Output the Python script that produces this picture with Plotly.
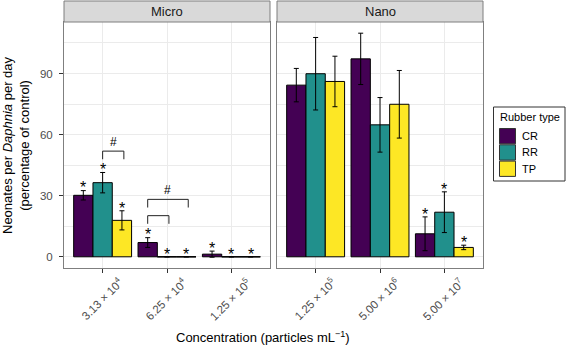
import plotly.graph_objects as go

# ---------------- data ----------------
rubber_types = ["CR", "RR", "TP"]
fill_colors = ["#440154", "#21908C", "#FDE725"]

micro_conc = ["3.13 × 10<sup>4</sup>", "6.25 × 10<sup>4</sup>", "1.25 × 10<sup>5</sup>"]
nano_conc = ["1.25 × 10<sup>5</sup>", "5.00 × 10<sup>6</sup>", "5.00 × 10<sup>7</sup>"]

micro_cr = [30.2, 7.0, 1.3]
micro_rr = [36.4, 0.0, 0.0]
micro_tp = [17.9, 0.0, 0.0]
micro_cr_err = [2.3, 2.4, 1.5]
micro_rr_err = [5.0, 0.0, 0.0]
micro_tp_err = [4.7, 0.0, 0.0]

nano_cr = [84.3, 97.2, 11.3]
nano_rr = [89.9, 64.8, 21.9]
nano_tp = [86.1, 74.9, 4.6]
nano_cr_err = [8.2, 12.6, 8.3]
nano_rr_err = [17.8, 13.4, 10.0]
nano_tp_err = [12.4, 16.6, 1.1]

# significance vs control (True -> asterisk)
micro_sig_cr = [True, True, True]
micro_sig_rr = [True, True, True]
micro_sig_tp = [True, True, True]
nano_sig_cr = [False, False, True]
nano_sig_rr = [False, False, True]
nano_sig_tp = [False, False, True]

# pairwise differences (#): (category index, type a, type b, bracket height, show label)
micro_pairs = [(0, "RR", "TP", 51.9, True), (1, "CR", "RR", 20.2, False), (1, "CR", "TP", 28.2, True)]

y_ticks = [0, 30, 60, 90]
y_minor = [15, 45, 75, 105]

# ---------------- figure ----------------
W, H = 567, 347
fig = go.Figure()

BORDER = "#7f7f7f"
GRID = "#ebebeb"
TXT = "#4d4d4d"
FONT = "Liberation Sans, Arial, sans-serif"


def px(x):
    return x / W


def py(y):
    return (H - y) / H


panels = [
    ("x", "y", micro_conc, [micro_cr, micro_rr, micro_tp],
     [micro_cr_err, micro_rr_err, micro_tp_err], [micro_sig_cr, micro_sig_rr, micro_sig_tp]),
    ("x2", "y2", nano_conc, [nano_cr, nano_rr, nano_tp],
     [nano_cr_err, nano_rr_err, nano_tp_err], [nano_sig_cr, nano_sig_rr, nano_sig_tp]),
]

offsets = [-0.3, 0.0, 0.3]
shapes = []
annotations = []

for p, (xa, ya, cats, vals, errs, sigs) in enumerate(panels):
    for k, rt in enumerate(rubber_types):
        fig.add_trace(go.Bar(
            x=cats, y=vals[k], name=rt, xaxis=xa, yaxis=ya,
            marker=dict(color=fill_colors[k], line=dict(color="black", width=1)),
            error_y=dict(type="data", array=errs[k], color="black", thickness=1, width=2.5),
            offsetgroup=rt, legendgroup=rt, showlegend=False,
        ))
        for i in range(len(cats)):
            xc = i + offsets[k]
            if vals[k][i] == 0:
                shapes.append(dict(type="line", xref=xa, yref=ya, x0=xc - 0.15, x1=xc + 0.15,
                                   y0=0, y1=0, line=dict(color="black", width=1)))
            if sigs[k][i]:
                annotations.append(dict(xref=xa, yref=ya, x=xc, y=vals[k][i] + errs[k][i] + 2.8,
                                        text="*", showarrow=False, yanchor="middle", yshift=-3,
                                        font=dict(family=FONT, size=16, color="black")))
    # rotated category labels, centred under each tick
    for i, c in enumerate(cats):
        annotations.append(dict(xref=xa, yref="paper", x=i, xshift=-1.5, y=py(298.5), text=c,
                                textangle=-45, showarrow=False, xanchor="center", yanchor="middle",
                                font=dict(family=FONT, size=11.5, color=TXT)))

# brackets with '#'
for (ci, a, b, h, lab) in micro_pairs:
    xa0 = ci + offsets[rubber_types.index(a)]
    xb0 = ci + offsets[rubber_types.index(b)] + 0.03
    leg = 4.0
    shapes.append(dict(type="path", xref="x", yref="y",
                       path=f"M{xa0},{h - leg} L{xa0},{h} L{xb0},{h} L{xb0},{h - leg}",
                       line=dict(color="#222222", width=1)))
    if lab:
        annotations.append(dict(xref="x", yref="y", x=(xa0 + xb0) / 2, y=h + 4.6, text="#",
                                showarrow=False, yanchor="middle",
                                font=dict(family=FONT, size=12, color="black")))

# strips
for xa, label in [("x", "Micro"), ("x2", "Nano")]:
    shapes.append(dict(type="rect", xref=f"{xa} domain", yref="paper", x0=0, x1=1,
                       y0=py(22), y1=py(1), fillcolor="#d9d9d9",
                       line=dict(color=BORDER, width=1), layer="above"))
    annotations.append(dict(xref=f"{xa} domain", yref="paper", x=0.5, y=py(11.5),
                            text=label, showarrow=False, yanchor="middle",
                            font=dict(family=FONT, size=13, color="#1a1a1a")))

# axis titles
annotations.append(dict(xref="paper", yref="paper", x=px(263), y=py(337),
                        text="Concentration (particles mL<sup>−1</sup>)", showarrow=False,
                        yanchor="middle", font=dict(family=FONT, size=13, color="black")))
annotations.append(dict(xref="paper", yref="paper", x=px(16), y=py(145), textangle=-90,
                        text="Neonates per <i>Daphnia</i> per day<br>(percentage of control)",
                        showarrow=False, xanchor="center", yanchor="middle",
                        font=dict(family=FONT, size=13, color="black")))

# legend (drawn)
shapes.append(dict(type="rect", xref="paper", yref="paper", x0=px(493.5), x1=px(565),
                   y0=py(181), y1=py(107), line=dict(color="#333333", width=1), fillcolor="white"))
annotations.append(dict(xref="paper", yref="paper", x=px(498), y=py(117), text="Rubber type",
                        showarrow=False, xanchor="left", yanchor="middle",
                        font=dict(family=FONT, size=11, color="black")))
for k, rt in enumerate(rubber_types):
    top = 128.5 + k * 16.3
    shapes.append(dict(type="rect", xref="paper", yref="paper", x0=px(499.5), x1=px(515.5),
                       y0=py(top + 15.3), y1=py(top), fillcolor=fill_colors[k],
                       line=dict(color="#333333", width=1)))
    annotations.append(dict(xref="paper", yref="paper", x=px(520), y=py(top + 7.6), text=rt,
                            showarrow=False, xanchor="left", yanchor="middle",
                            font=dict(family=FONT, size=11, color="black")))

yrange = [-5.5, 115.3]
xaxis_common = dict(
    type="category", range=[-0.6, 2.6], showgrid=True, gridcolor=GRID, gridwidth=1,
    showline=True, linecolor=BORDER, linewidth=1, mirror=True,
    ticks="outside", ticklen=4, tickcolor="#333333", tickwidth=1,
    showticklabels=False, zeroline=False, automargin=False,
)
yaxis_common = dict(
    range=yrange, tickvals=y_ticks, showgrid=True, gridcolor=GRID, gridwidth=1,
    minor=dict(tickvals=y_minor, showgrid=True, gridcolor=GRID, gridwidth=0.6, ticks=""),
    showline=True, linecolor=BORDER, linewidth=1, mirror=True, zeroline=False,
    domain=[py(268), py(22)], automargin=False,
)

fig.update_layout(
    width=W, height=H,
    margin=dict(l=0, r=0, t=0, b=0),
    paper_bgcolor="white", plot_bgcolor="white",
    barmode="group", bargap=0.1, bargroupgap=0,
    font=dict(family=FONT, color="black"),
    showlegend=False,
    xaxis=dict(domain=[px(64), px(270)], anchor="y", **xaxis_common),
    xaxis2=dict(domain=[px(277), px(483)], anchor="y2", **xaxis_common),
    yaxis=dict(anchor="x", ticks="outside", ticklen=4, tickcolor="#333333", tickwidth=1,
               tickfont=dict(family=FONT, size=11.5, color=TXT), ticklabelstandoff=4,
               **yaxis_common),
    yaxis2=dict(anchor="x2", matches="y", showticklabels=False, ticks="", **yaxis_common),
    shapes=shapes, annotations=annotations,
)

fig.write_html("out.html", config={"displayModeBar": False},
               post_script="document.body.style.margin='0';document.body.style.padding='0';")
